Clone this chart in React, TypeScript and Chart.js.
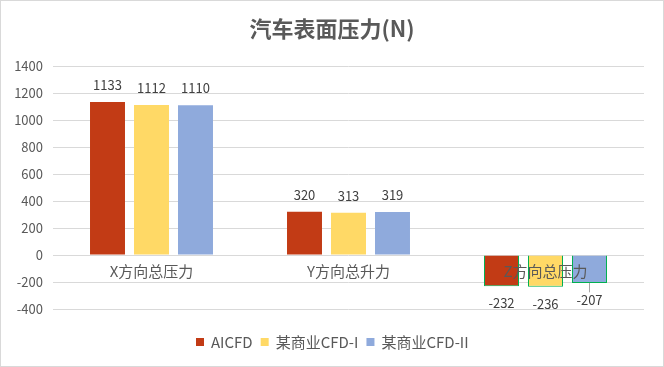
import React, { useEffect, useRef } from "react";
import { Chart, registerables } from "chart.js";

Chart.register(...registerables);

const categories = ["X方向总压力", "Y方向总升力", "Z方向总压力"];
const seriesNames = ["AICFD", "某商业CFD-I", "某商业CFD-II"];
const aicfd = [1133, 320, -232];
const cfd1 = [1112, 313, -236];
const cfd2 = [1110, 319, -207];
const colors = ["#C23B15", "#FFD966", "#8FAADC"];
const yTicks = [-400, -200, 0, 200, 400, 600, 800, 1000, 1200, 1400];
const title = "汽车表面压力(N)";

const FONT = '"Noto Sans CJK SC", "Noto Sans", sans-serif';

export default function App() {
  const ref = useRef<HTMLCanvasElement>(null);
  useEffect(() => {
    document.body.style.margin = "0";
    const canvas = ref.current!;
    const seriesData = [aicfd, cfd1, cfd2];
    const plugin = {
      id: "custom",
      beforeDraw(chart: any) {
        const ctx = chart.ctx;
        ctx.save();
        ctx.fillStyle = "#ffffff";
        ctx.fillRect(0, 0, chart.width, chart.height);
        ctx.strokeStyle = "#d9d9d9";
        ctx.lineWidth = 1;
        ctx.strokeRect(0.5, 0.5, chart.width - 1, chart.height - 1);
        ctx.restore();
      },
      afterDatasetsDraw(chart: any) {
        const ctx = chart.ctx;
        const y = chart.scales.y;
        const x = chart.scales.x;
        ctx.save();
        ctx.font = "13px " + FONT;
        ctx.fillStyle = "#404040";
        ctx.textAlign = "center";
        chart.data.datasets.forEach((ds: any, di: number) => {
          const meta = chart.getDatasetMeta(di);
          meta.data.forEach((bar: any, i: number) => {
            const v = ds.data[i];
            if (v >= 0) {
              ctx.textBaseline = "middle";
              ctx.fillText(String(v), bar.x, bar.y - 17);
            } else {
              ctx.textBaseline = "middle";
              let ly = bar.y + 17;
              if (v > -215) {
                ly = y.getPixelForValue(-232) + 14;
                ctx.strokeStyle = "#a6a6a6";
                ctx.lineWidth = 1;
                ctx.beginPath();
                ctx.moveTo(Math.round(bar.x) + 0.5, bar.y);
                ctx.lineTo(Math.round(bar.x) + 0.5, ly - 8);
                ctx.stroke();
              }
              ctx.fillText(String(v), bar.x, ly);
            }
          });
        });
        ctx.font = "15px " + FONT;
        ctx.fillStyle = "#595959";
        ctx.textBaseline = "middle";
        const zy = y.getPixelForValue(0);
        categories.forEach((c, i) => {
          ctx.fillText(c, x.getPixelForValue(i), zy + 16);
        });
        ctx.restore();
      },
      afterDraw(chart: any) {
        const ctx = chart.ctx;
        ctx.save();
        ctx.font = "bold 22px " + FONT;
        ctx.fillStyle = "#595959";
        ctx.textAlign = "center";
        ctx.textBaseline = "middle";
        ctx.fillText(title, chart.width / 2, 29);
        ctx.font = "15px " + FONT;
        const box = 8;
        const gapBox = 7;
        const gapItem = 8;
        const widths = seriesNames.map((n) => ctx.measureText(n).width);
        const total = widths.reduce((a, w) => a + box + gapBox + w, 0) + gapItem * (seriesNames.length - 1);
        let lx = Math.round(chart.width / 2 - total / 2);
        const ly = 342;
        ctx.textAlign = "left";
        seriesNames.forEach((n, i) => {
          ctx.fillStyle = colors[i];
          ctx.fillRect(lx, ly - box / 2, box, box);
          lx += box + gapBox;
          ctx.fillStyle = "#595959";
          ctx.fillText(n, lx, ly);
          lx += widths[i] + gapItem;
        });
        ctx.restore();
      },
    };
    const chart = new Chart(canvas, {
      type: "bar",
      data: {
        labels: categories,
        datasets: seriesNames.map((n, i) => ({
          label: n,
          data: seriesData[i],
          backgroundColor: colors[i],
          borderColor: seriesData[i].map((v) => (v < 0 ? "#00B050" : colors[i])),
          borderWidth: seriesData[i].map((v) => (v < 0 ? 1 : 0)),
          categoryPercentage: 0.67,
          barPercentage: 0.795,
        })),
      },
      options: {
        animation: false,
        responsive: false,
        devicePixelRatio: 1,
        layout: { padding: { top: 66, bottom: 58, left: 8, right: 20 } },
        plugins: {
          legend: { display: false },
          title: { display: false },
          tooltip: { enabled: false },
        },
        scales: {
          x: { display: false },
          y: {
            min: -400,
            max: 1400,
            afterBuildTicks(scale: any) {
              scale.ticks = yTicks.map((v) => ({ value: v }));
            },
            afterFit(scale: any) {
              scale.width = 45;
            },
            grid: { color: "#d9d9d9", drawTicks: false },
            border: { display: false },
            ticks: {
              padding: 10,
              color: "#595959",
              font: { size: 13, family: FONT },
              callback: (v: any) => String(v),
            },
          },
        },
      },
      plugins: [plugin],
    });
    return () => chart.destroy();
  }, []);
  return <canvas ref={ref} width={664} height={367} style={{ display: "block" }} />;
}
